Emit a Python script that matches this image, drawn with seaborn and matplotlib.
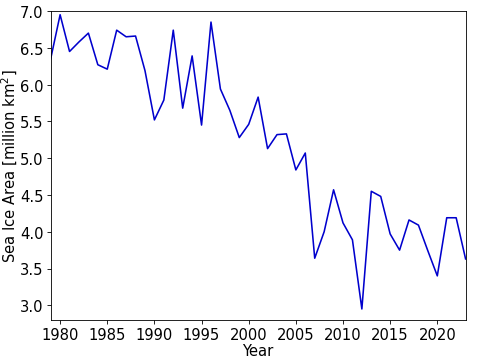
import seaborn as sns
import matplotlib
matplotlib.use("Agg")
import matplotlib.pyplot as plt
import pandas as pd

# Values
years = list(range(1979, 2024))
sea_ice_area = [
    6.35, 6.95, 6.45, 6.58, 6.70, 6.27, 6.21, 6.74, 6.65, 6.66,
    6.19, 5.52, 5.79, 6.74, 5.68, 6.39, 5.45, 6.85, 5.94, 5.65,
    5.28, 5.46, 5.83, 5.13, 5.32, 5.33, 4.84, 5.07, 3.64, 4.00,
    4.57, 4.12, 3.89, 2.95, 4.55, 4.48, 3.97, 3.75, 4.16, 4.09,
    3.74, 3.40, 4.19, 4.19, 3.63,
]

df = pd.DataFrame({"Year": years, "Area": sea_ice_area})

plt.rcParams["font.family"] = ["DejaVu Sans"]
plt.rcParams["font.size"] = 14

# 6.4 x 4.75 in at ~75.8 dpi -> 485 x 360 px
fig = plt.figure(figsize=(6.4, 4.75), dpi=75.78)
ax = fig.add_axes([0.1045, 0.1083, 0.8555, 0.8584])

sns.lineplot(data=df, x="Year", y="Area", color="mediumblue", linewidth=1.5, ax=ax)

ax.set_xlim(1979, 2023)
ax.set_ylim(2.8, 7.0)
ax.set_xticks(range(1980, 2021, 5))
ax.set_xlabel("Year", fontsize=14, labelpad=1)
ax.set_ylabel("Sea Ice Area [million km$^2$]", fontsize=14, labelpad=0)
ax.tick_params(labelsize=14)

fig.savefig("out.png", dpi=75.78)
plt.close(fig)
